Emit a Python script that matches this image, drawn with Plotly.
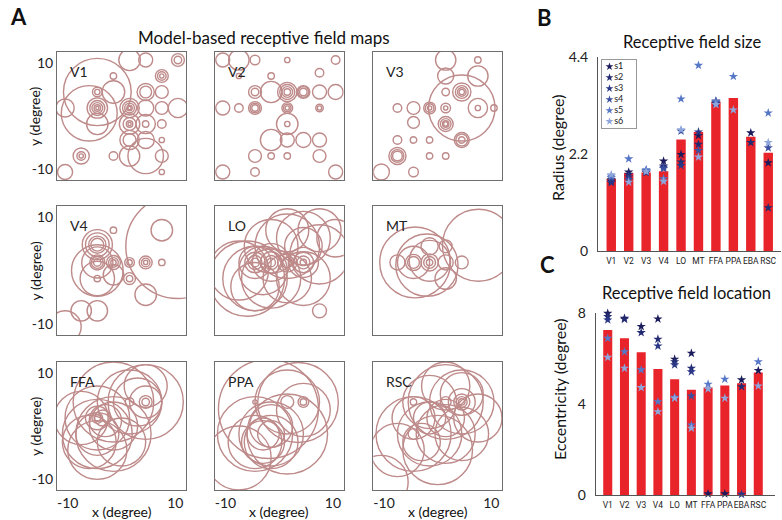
import plotly.graph_objects as go

# ---------------- data ----------------
rois = ['V1', 'V2', 'V3', 'V4', 'LO', 'MT', 'FFA', 'PPA', 'EBA', 'RSC']
subjects = ['s1', 's2', 's3', 's4', 's5', 's6']

size_mean = [1.64, 1.77, 1.78, 1.81, 2.53, 2.70, 3.38, 3.47, 2.59, 2.23]
size_s1 = [1.58, 1.79, 1.79, 2.04, 2.19, 2.62, 3.38, None, 2.68, 2.00]
size_s2 = [1.62, 1.74, 1.81, 1.93, 2.02, 2.42, 3.35, None, 2.46, 0.98]
size_s3 = [1.55, 1.68, 1.78, 1.90, 1.94, 2.70, 3.40, None, None, None]
size_s4 = [1.66, 1.62, 1.82, 1.87, 2.72, 2.28, 3.36, None, None, 2.34]
size_s5 = [1.70, 2.09, 1.84, 1.64, 3.45, 4.21, 3.39, 3.96, None, 3.13]
size_s6 = [1.73, 1.56, 1.80, 1.58, 2.75, 2.13, 3.32, 3.20, None, 2.46]

ecc_mean = [7.27, 6.90, 6.28, 5.55, 5.10, 4.63, 4.73, 4.82, 4.92, 5.39]
ecc_s1 = [8.00, 7.78, 7.42, 7.75, 5.98, 6.24, 0.05, 0.05, 5.07, 5.48]
ecc_s2 = [7.86, 7.74, 7.15, 6.86, 5.87, 5.58, None, None, 4.77, None]
ecc_s3 = [7.71, None, None, 6.56, 5.73, 5.43, None, None, 0.03, None]
ecc_s4 = [None, None, None, None, None, 4.36, None, None, None, None]
ecc_s5 = [6.90, 6.31, 5.51, 4.11, 4.30, 3.08, 4.88, 5.10, None, 5.87]
ecc_s6 = [6.06, 5.58, 4.73, 3.67, 4.26, 2.94, 4.67, 4.26, None, 4.80]

map_tick_vals = [-10, 10]
map_tick_text = ['-10', '10']

# receptive fields: (x centre, y centre, radius) in degrees
rf_V1 = [
    (1.5, 10.5, 2.0), (4.5, 10.5, 1.3), (10.5, 10.5, 1.2), (10.5, 10.5, 0.7),
    (-1.5, 7.5, 0.6), (7.5, 7.5, 1.2), (7.5, 7.5, 0.8), (7.5, 7.5, 0.4),
    (-4.5, 4.5, 0.9), (-4.5, 4.5, 0.5), (-1.5, 4.5, 2.1), (4.5, 4.5, 1.6), (4.5, 4.5, 1.1), (7.5, 4.5, 1.2),
    (-10.5, 1.5, 1.7), (-4.5, 1.5, 1.9), (-4.5, 1.5, 1.4), (-4.5, 1.5, 1.0), (-4.5, 1.5, 0.6), (-4.5, 1.5, 0.3),
    (1.5, 1.5, 1.8), (1.5, 1.5, 1.3), (1.5, 1.5, 0.9), (1.5, 1.5, 0.5), (1.5, 1.5, 0.3),
    (4.5, 1.5, 1.5), (7.5, 1.5, 1.2), (10.5, 1.5, 1.8),
    (-4.5, -1.5, 2.0), (1.5, -1.5, 1.9), (1.5, -1.5, 1.2), (1.5, -1.5, 0.6), (1.5, -1.5, 0.3),
    (4.5, -1.5, 0.6), (7.5, -1.5, 0.8), (4.5, -1.5, 1.8),
    (1.5, -4.5, 1.8), (1.5, -4.5, 1.2), (4.5, -4.5, 1.6), (7.5, -4.5, 0.5),
    (-7.5, -7.5, 1.5), (-7.5, -7.5, 0.8), (-7.5, -7.5, 0.4), (-1.5, -7.5, 0.8), (1.5, -7.5, 1.9),
    (4.5, -7.5, 3.3), (7.5, -7.5, 1.2),
    (-10.5, -10.5, 1.4), (7.5, -10.5, 0.5),
    (-4.5, 4.5, 6.3), (-6.0, 0.5, 5.2),
]
rf_V2 = [
    (-10.5, 10.5, 1.3), (-7.5, 10.5, 1.9), (-4.5, 10.5, 0.9), (1.5, 10.5, 0.5), (10.5, 10.5, 0.8),
    (-7.5, 7.5, 0.5), (-1.5, 7.5, 0.6), (7.5, 8.1, 0.8),
    (-4.5, 4.5, 1.2), (-4.5, 4.5, 0.7), (-1.5, 4.5, 2.0), (1.5, 4.5, 1.8), (1.5, 4.5, 1.4), (1.5, 4.5, 1.0),
    (1.5, 4.5, 0.6), (4.5, 4.5, 1.2), (4.5, 4.5, 1.0), (4.5, 4.5, 0.7), (7.5, 4.5, 1.3), (10.5, 4.5, 1.4),
    (-10.5, 1.5, 1.3), (-7.5, 1.5, 0.8), (-4.5, 1.5, 1.2), (-4.5, 1.5, 0.9), (-4.5, 1.5, 0.6),
    (1.5, 1.5, 1.0), (1.5, 1.5, 0.7), (1.5, 1.5, 0.4), (7.5, 1.5, 0.7), (7.5, 1.5, 0.4),
    (1.5, -1.5, 2.0), (1.5, -1.5, 0.5),
    (-1.5, -4.5, 2.0), (1.5, -4.5, 1.3), (4.5, -4.5, 1.4), (7.5, -4.5, 1.3),
    (-4.5, -7.5, 1.2), (-1.5, -7.5, 0.6), (1.5, -7.5, 0.6), (7.5, -7.5, 1.2),
    (-10.5, -10.5, 1.3), (-4.5, -10.5, 0.8), (10.5, -10.5, 1.3),
]
rf_V3 = [
    (1.5, 10.5, 1.9), (7.5, 10.5, 0.6),
    (1.5, 7.5, 1.5), (7.5, 7.5, 1.9),
    (1.5, 4.5, 0.7), (4.5, 4.5, 1.7), (4.5, 4.5, 1.2), (4.5, 4.5, 0.8), (4.5, 4.5, 0.5),
    (4.5, 1.5, 6.2),
    (-7.5, 1.5, 0.8), (-4.5, 1.5, 1.2), (-1.5, 1.5, 1.1), (-1.5, 1.5, 0.8), (-1.5, 1.5, 0.4),
    (1.5, 1.5, 0.9), (1.5, 1.5, 0.4), (7.5, 1.5, 1.8), (7.5, 1.5, 0.5), (10.5, 1.5, 0.6),
    (-4.5, -1.2, 1.1), (1.5, -1.5, 1.4), (1.5, -1.5, 1.0), (1.5, -1.5, 0.6), (1.5, -1.5, 0.4),
    (-7.5, -4.5, 0.8), (-4.5, -4.5, 0.6), (-1.5, -4.5, 0.6), (4.5, -4.5, 1.4), (4.5, -4.5, 1.1), (4.5, -4.5, 0.6),
    (-7.5, -7.5, 1.6), (-7.5, -7.5, 1.2), (-7.5, -7.5, 0.9), (-1.5, -7.5, 0.6), (1.5, -7.5, 0.6),
    (-10.5, -10.5, 1.5), (-4.5, -10.5, 0.9),
]
rf_V4 = [
    (10.5, 4.5, 9.7), (7.5, 7.5, 2.0), (-1.5, 7.5, 0.6),
    (-4.5, 4.8, 2.8), (-4.5, 4.8, 2.2), (-4.5, 4.8, 1.6), (-4.5, 4.8, 1.2),
    (-4.5, 1.5, 1.4), (-4.5, 1.5, 1.1), (-4.5, 1.5, 0.7), (-1.5, 1.5, 1.3), (-1.5, 1.5, 0.9), (-1.5, 1.5, 0.5),
    (1.5, 1.5, 0.9), (1.5, 1.5, 0.5), (4.5, 1.5, 1.2), (4.5, 1.5, 0.8), (4.5, 1.5, 0.4), (7.5, 1.5, 0.6),
    (-4.5, 0.0, 4.8), (-4.5, -1.5, 3.2), (-1.5, -0.8, 1.9), (-4.5, 1.5, 2.9),
    (-4.5, -1.5, 0.6), (1.5, -1.5, 1.1), (1.5, -1.5, 0.6),
    (4.5, -4.5, 2.0), (-7.5, -7.5, 1.9), (-4.5, -7.5, 1.9), (-10.5, -10.5, 3.0),
]
rf_LO = [
    (-4.5, 1.5, 0.8), (-4.5, 1.5, 1.3), (-4.5, 1.5, 1.9), (-1.5, 1.5, 0.8), (-1.5, 1.5, 1.3), (-1.5, 1.5, 2.0),
    (1.5, 1.5, 1.0), (1.5, 1.5, 1.8), (4.5, 1.5, 0.6), (4.5, 1.5, 1.2), (4.5, 1.5, 1.9), (4.5, 1.5, 2.8),
    (-4.5, 1.5, 3.0), (-1.5, 1.5, 3.5), (-3.0, 0.0, 4.5), (-4.5, -1.5, 6.0), (-7.5, 0.0, 5.5),
    (-1.5, -1.5, 5.5), (1.5, -1.5, 4.5), (-4.5, -3.0, 4.5), (-6.0, -1.5, 7.0),
    (1.5, 4.5, 6.0), (4.5, 6.0, 5.0), (7.5, 7.5, 4.0), (4.5, 4.5, 3.5), (1.5, 7.5, 4.0),
    (7.5, 3.0, 5.5), (-1.5, 4.5, 5.0), (4.5, -1.5, 5.0), (10.5, 6.0, 3.5),
    (7.5, -7.5, 1.3),
]
rf_MT = [
    (7.6, 4.7, 6.7),
    (-4.2, 1.5, 6.6), (-2.0, 1.0, 5.8), (-1.5, 1.8, 3.8), (-4.5, 1.5, 3.0),
    (-7.5, 1.5, 1.4), (-4.5, 1.5, 1.5), (-4.5, 1.5, 1.1), (-1.5, 1.5, 1.6), (-1.5, 1.5, 1.1), (-1.5, 1.5, 0.6),
    (1.5, 1.5, 1.4), (4.5, 1.5, 1.2), (-1.5, 4.5, 1.6), (1.5, 4.5, 1.2), (1.5, -1.5, 2.0),
]
rf_FFA = [
    (1.5, 4.5, 0.8), (4.5, 4.5, 1.2), (4.5, 4.5, 0.7),
    (-4.5, 1.5, 0.6), (-4.5, 1.5, 1.0), (-3.5, 1.5, 1.5), (-4.5, 1.5, 2.2), (-3.0, 1.0, 3.0),
    (4.5, 4.5, 3.0), (3.0, 4.5, 4.5), (4.5, 4.5, 7.0), (1.5, 4.5, 6.0), (-1.5, 4.5, 7.5), (4.5, 7.5, 4.0),
    (-4.5, 1.5, 6.0), (-4.5, -1.5, 6.5), (-1.5, -1.5, 7.0), (-7.5, 1.5, 5.0), (-6.0, -3.0, 5.0),
    (-4.5, -4.5, 5.5), (0.0, -3.0, 4.5), (-4.5, -1.5, 4.0), (-1.5, 0.0, 4.5),
]
rf_PPA = [
    (-4.5, 4.5, 0.4), (1.5, 4.5, 1.2), (4.5, 4.5, 1.0), (4.5, 4.5, 0.6),
    (3.5, 4.4, 7.5), (1.5, 4.5, 6.0), (-2.0, 3.2, 9.3), (4.5, 3.0, 5.0),
    (-4.5, -1.5, 7.0), (-1.5, -1.5, 6.0), (-1.5, -3.0, 5.0), (1.5, -1.5, 7.5), (-4.5, -3.0, 5.0),
    (-1.5, 0.0, 4.0), (-3.0, -1.5, 3.0), (-1.5, -1.5, 2.5), (-7.5, -6.0, 6.0), (-3.0, -3.0, 4.0),
]
rf_RSC = [
    (4.5, 4.5, 0.6), (4.5, 4.5, 1.0), (4.5, 4.5, 1.5), (4.5, 4.5, 2.5), (1.5, 4.5, 1.0),
    (-4.5, 4.5, 0.6), (-4.5, -1.5, 1.0),
    (1.5, 4.5, 7.0), (4.5, 4.5, 6.0), (1.5, 7.5, 4.5), (-1.5, 4.5, 5.0), (4.5, 6.0, 4.0),
    (-4.5, -1.5, 7.0), (-1.5, -1.5, 6.0), (1.5, -1.5, 5.5), (4.5, -1.5, 5.0), (-4.5, 1.5, 4.0),
    (-1.5, 1.5, 3.0), (1.5, 1.5, 3.5), (-7.5, -4.5, 5.0), (0.0, -4.5, 6.5), (-10.5, -10.5, 5.0),
    (7.5, 1.5, 4.5), (-3.0, -3.0, 3.5),
]
map_names = ['V1', 'V2', 'V3', 'V4', 'LO', 'MT', 'FFA', 'PPA', 'RSC']
map_data = [rf_V1, rf_V2, rf_V3, rf_V4, rf_LO, rf_MT, rf_FFA, rf_PPA, rf_RSC]

# ---------------- style ----------------
W, H = 782, 520
FONT = 'Lato'
RF_COLOR = 'rgb(190,138,138)'
FRAME = '#6e6e6e'
BAR_RED = '#e8232a'
SUBJ_COLORS = ['#1b1b5c', '#222a72', '#2a3786', '#3a4f9f', '#5676c6', '#8ea6dc']

col_px = [(57, 186), (214.7, 343.7), (373.3, 502)]
row_px = [(52, 180), (206, 335), (362, 490)]


def px_x(a, b):
    return [a / W, b / W]


def px_y(top, bottom):
    return [1 - bottom / H, 1 - top / H]


fig = go.Figure()
layout = dict(width=W, height=H, margin=dict(l=0, r=0, t=0, b=0, pad=0, autoexpand=False),
              paper_bgcolor='white', plot_bgcolor='white',
              font=dict(family=FONT, color='#222'), showlegend=False)
shapes = []
annotations = []


def txt(text, x, y, size, bold=False, angle=0):
    annotations.append(dict(text=f'<b>{text}</b>' if bold else text, xref='paper',
                            yref='paper', x=x / W, y=1 - y / H, showarrow=False,
                            xanchor='center', yanchor='middle', textangle=angle,
                            font=dict(size=size, color='#111')))


# ---------------- receptive-field maps ----------------
for i, (name, circles) in enumerate(zip(map_names, map_data)):
    n = i + 1
    row, col = divmod(i, 3)
    xk = 'xaxis' if n == 1 else f'xaxis{n}'
    yk = 'yaxis' if n == 1 else f'yaxis{n}'
    xr = 'x' if n == 1 else f'x{n}'
    yr = 'y' if n == 1 else f'y{n}'
    layout[xk] = dict(domain=px_x(*col_px[col]), anchor=yr, range=[-12, 12],
                      showgrid=False, zeroline=False, showline=True, mirror=True,
                      linecolor=FRAME, linewidth=1, tickvals=map_tick_vals,
                      ticktext=map_tick_text, showticklabels=(row == 2),
                      ticks='', tickfont=dict(size=14, color='#222'), fixedrange=True,
                      automargin=False)
    layout[yk] = dict(domain=px_y(*row_px[row]), anchor=xr, range=[-12, 12],
                      showgrid=False, zeroline=False, showline=True, mirror=True,
                      linecolor=FRAME, linewidth=1, tickvals=map_tick_vals,
                      ticktext=map_tick_text, showticklabels=(col == 0),
                      ticks='', tickfont=dict(size=14, color='#222'), fixedrange=True,
                      automargin=False)
    fig.add_trace(go.Scatter(x=[0], y=[0], mode='markers', marker=dict(opacity=0),
                             hoverinfo='skip', xaxis=xr, yaxis=yr, showlegend=False))
    for (cx, cy, r) in circles:
        shapes.append(dict(type='circle', xref=xr, yref=yr, x0=cx - r, x1=cx + r,
                           y0=cy - r, y1=cy + r, layer='above',
                           line=dict(color=RF_COLOR, width=1.4)))
    annotations.append(dict(text=name, xref=f'{xr} domain', yref=f'{yr} domain',
                            x=0.085, y=0.845, xanchor='left', yanchor='middle',
                            showarrow=False, font=dict(size=14, color='#222')))

for row in range(3):
    top, bottom = row_px[row]
    txt('y (degree)', 35, (top + bottom) / 2, 14, angle=-90)
for col in range(3):
    a, b = col_px[col]
    txt('x (degree)', (a + b) / 2, 511, 14)

# ---------------- bar charts ----------------
size_subj = [size_s1, size_s2, size_s3, size_s4, size_s5, size_s6]
ecc_subj = [ecc_s1, ecc_s2, ecc_s3, ecc_s4, ecc_s5, ecc_s6]

bar_axes = [
    ('x10', 'y10', (598, 780.8), (57, 251), [-0.76, 9.72], [0, 4.4],
     [0, 2.2, 4.4], ['0', '2.2', '4.4'], size_mean, size_subj),
    ('x11', 'y11', (595.7, 775), (313.3, 495), [-0.72, 10.0], [0, 8],
     [0, 4, 8], ['0', '4', '8'], ecc_mean, ecc_subj),
]
for (xr, yr, xd, yd, xrange, yrange, tv, tt, means, subj) in bar_axes:
    n = xr[1:]
    layout[f'xaxis{n}'] = dict(domain=px_x(*xd), anchor=yr, type='linear',
                               range=xrange, showgrid=False, zeroline=False,
                               showline=True, linecolor='#555', linewidth=1,
                               tickvals=list(range(len(rois))), ticktext=rois,
                               tickangle=0, ticks='outside', ticklen=2,
                               tickcolor='rgba(0,0,0,0)',
                               tickfont=dict(size=8.5, family='Roboto', color='#222'),
                               fixedrange=True, automargin=False)
    layout[f'yaxis{n}'] = dict(domain=px_y(*yd), anchor=xr, range=yrange,
                               showgrid=False, zeroline=False, showline=True,
                               linecolor='#555', linewidth=1, tickvals=tv, ticktext=tt,
                               ticks='outside', ticklen=6, tickcolor='rgba(0,0,0,0)',
                               tickfont=dict(size=14, color='#222'),
                               fixedrange=True, automargin=False)
    fig.add_trace(go.Bar(x=list(range(len(rois))), y=means, width=0.54,
                         marker=dict(color=BAR_RED, line=dict(width=0)),
                         xaxis=xr, yaxis=yr, showlegend=False))
    for s, vals in enumerate(subj):
        fig.add_trace(go.Scatter(x=list(range(len(rois))), y=vals, mode='markers',
                                 marker=dict(symbol='star', size=7, color=SUBJ_COLORS[s],
                                             line=dict(width=0)),
                                 xaxis=xr, yaxis=yr, showlegend=False, cliponaxis=False))

txt('Radius (degree)', 557, 148, 16, angle=-90)
txt('Eccentricity (degree)', 559, 389, 16, angle=-90)

# ---------------- subject key (small axes inside panel B) ----------------
layout['xaxis12'] = dict(domain=px_x(602, 636), anchor='y12', range=[0, 1],
                         showgrid=False, zeroline=False, showline=True, mirror=True,
                         linecolor='#999', linewidth=1, showticklabels=False, ticks='',
                         fixedrange=True, automargin=False)
layout['yaxis12'] = dict(domain=px_y(60, 128), anchor='x12', range=[5.6, -0.6],
                         showgrid=False, zeroline=False, showline=True, mirror=True,
                         linecolor='#999', linewidth=1, showticklabels=False, ticks='',
                         fixedrange=True, automargin=False)
for s, name in enumerate(subjects):
    fig.add_trace(go.Scatter(x=[0.22], y=[s], mode='markers+text', text=[name],
                             textposition='middle right',
                             textfont=dict(size=9, color='#222'),
                             marker=dict(symbol='star', size=6, color=SUBJ_COLORS[s]),
                             xaxis='x12', yaxis='y12', showlegend=False, cliponaxis=False))

# ---------------- titles and panel letters ----------------
txt('A', 18, 17, 22, True)
txt('B', 544, 18, 22, True)
txt('C', 547, 264, 22, True)
txt('Model-based receptive field maps', 264, 38, 17)
txt('Receptive field size', 692, 42, 16.5)
txt('Receptive field location', 686, 293, 16.5)

layout['shapes'] = shapes
layout['annotations'] = annotations
fig.update_layout(**layout)
fig.write_html('out.html', config={'displayModeBar': False},
               post_script="document.body.style.margin='0px';"
                           "document.body.style.overflow='hidden';")
